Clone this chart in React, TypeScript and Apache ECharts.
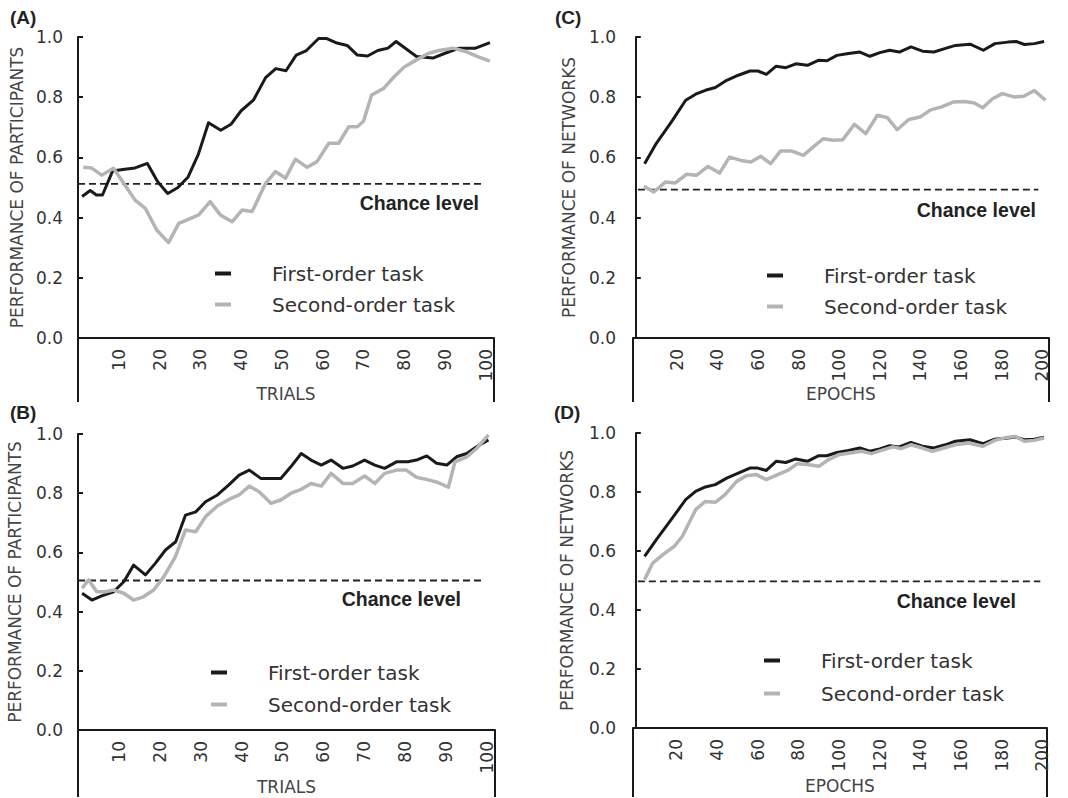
import React, { useEffect, useRef } from "react";
import * as echarts from "echarts";

// ---------- DATA ----------
const seriesNames = ["First-order task", "Second-order task"];
const panelLabels = ["(A)", "(B)", "(C)", "(D)"];
const trialsName = "TRIALS";
const epochsName = "EPOCHS";
const participantsName = "PERFORMANCE OF PARTICIPANTS";
const networksName = "PERFORMANCE OF NETWORKS";
const chanceLabel = "Chance level";

// Panel A (participants)
const aFirstX = [1, 3, 4.5, 6, 8.5, 11, 14, 17, 19.5, 22, 24.5, 27, 29.5, 32, 35, 37.5, 40, 43, 46, 48.5, 51, 53.5, 56, 59, 61, 63.5, 66, 68.5, 71, 73.5, 76, 78, 80.5, 83, 87, 90, 93.5, 97.5, 101];
const aFirstY = [0.47, 0.49, 0.475, 0.475, 0.555, 0.56, 0.565, 0.58, 0.52, 0.48, 0.5, 0.535, 0.61, 0.715, 0.69, 0.71, 0.755, 0.79, 0.865, 0.895, 0.888, 0.94, 0.955, 0.995, 0.995, 0.98, 0.972, 0.94, 0.937, 0.955, 0.963, 0.985, 0.96, 0.935, 0.93, 0.946, 0.963, 0.963, 0.981];
const aSecondX = [1.3, 3.3, 5.8, 8.7, 11.2, 14, 16.5, 19.3, 22.2, 24.7, 27.1, 29.6, 32.4, 34.9, 37.8, 40.2, 42.7, 46, 48.4, 50.9, 53.3, 56.2, 58.6, 61.5, 63.9, 66.4, 68.5, 70, 72, 75, 77.5, 80, 83, 86, 88.5, 92, 95, 98, 101];
const aSecondY = [0.567, 0.565, 0.541, 0.564, 0.514, 0.458, 0.431, 0.359, 0.317, 0.381, 0.394, 0.409, 0.453, 0.409, 0.386, 0.425, 0.42, 0.514, 0.553, 0.531, 0.594, 0.567, 0.586, 0.647, 0.647, 0.702, 0.702, 0.72, 0.807, 0.83, 0.868, 0.9, 0.924, 0.946, 0.955, 0.963, 0.952, 0.935, 0.92];
const aChanceX = [0, 99];
const aChanceY = 0.512;

// Panel B (participants)
const bFirstX = [1, 3.4, 5.8, 8.7, 11.2, 13.6, 16.5, 18.9, 21.4, 23.9, 26.3, 28.8, 31.2, 34.1, 36.9, 39.4, 41.9, 44.7, 49.6, 52.1, 54.6, 57, 59.5, 61.9, 64.8, 67.2, 70.1, 72.6, 75, 77.9, 80.7, 82.8, 85.3, 87.7, 90.2, 92.6, 95.1, 97.5, 100.4];
const bFirstY = [0.462, 0.439, 0.453, 0.467, 0.501, 0.557, 0.524, 0.563, 0.608, 0.636, 0.726, 0.737, 0.771, 0.794, 0.828, 0.861, 0.878, 0.85, 0.85, 0.89, 0.934, 0.912, 0.895, 0.912, 0.884, 0.892, 0.912, 0.895, 0.884, 0.906, 0.906, 0.912, 0.926, 0.901, 0.895, 0.923, 0.934, 0.957, 0.98];
const bSecondX = [1, 2.6, 4.6, 6.7, 8.7, 11.2, 13.6, 16, 18.5, 21, 23.8, 26.3, 28.8, 31.2, 34.1, 36.9, 39.4, 41.9, 44.3, 47.2, 49.6, 52.1, 54.6, 57, 59.5, 61.9, 64.8, 67.2, 70.1, 72.6, 75, 77.9, 80.3, 82.8, 85.7, 88.1, 90.6, 92.2, 95.1, 97.5, 100.4];
const bSecondY = [0.479, 0.507, 0.467, 0.467, 0.473, 0.462, 0.439, 0.45, 0.473, 0.518, 0.585, 0.676, 0.67, 0.721, 0.757, 0.779, 0.794, 0.824, 0.805, 0.766, 0.777, 0.8, 0.813, 0.833, 0.824, 0.867, 0.833, 0.833, 0.858, 0.833, 0.867, 0.878, 0.878, 0.854, 0.845, 0.836, 0.82, 0.906, 0.923, 0.951, 0.997];
const bChanceX = [0, 99];
const bChanceY = 0.505;

// Panel C (networks)
const cFirstX = [4.3, 10, 18, 24.5, 29.4, 34.2, 39.1, 44.7, 50.4, 56.1, 60, 64.2, 69, 73.8, 78.7, 84.4, 90, 94, 98.9, 104.6, 110.2, 115.1, 120, 124.8, 129.6, 135.3, 141, 146.6, 152.3, 157.2, 164.4, 170.9, 176.6, 183, 187, 191.1, 196, 200.8];
const cFirstY = [0.579, 0.646, 0.723, 0.79, 0.81, 0.823, 0.832, 0.856, 0.873, 0.887, 0.887, 0.876, 0.903, 0.898, 0.911, 0.906, 0.923, 0.921, 0.939, 0.945, 0.95, 0.936, 0.948, 0.956, 0.95, 0.967, 0.953, 0.95, 0.962, 0.972, 0.976, 0.956, 0.978, 0.983, 0.985, 0.975, 0.978, 0.985];
const cSecondX = [4, 8.8, 14.5, 19.4, 25, 29.9, 35.5, 41.2, 46, 51.7, 56.6, 61.4, 66.3, 71.1, 76.8, 82.4, 87.3, 92.1, 97, 101.8, 107.5, 113.1, 118.8, 123.7, 128.5, 134.2, 139.8, 144.7, 150.4, 156, 161.7, 166.5, 170.6, 175.4, 180.3, 185.9, 190.8, 196, 201.5];
const cSecondY = [0.504, 0.485, 0.518, 0.515, 0.544, 0.541, 0.57, 0.548, 0.601, 0.59, 0.585, 0.604, 0.579, 0.621, 0.621, 0.607, 0.635, 0.662, 0.657, 0.659, 0.71, 0.679, 0.74, 0.732, 0.692, 0.726, 0.734, 0.757, 0.768, 0.784, 0.786, 0.781, 0.765, 0.795, 0.812, 0.801, 0.803, 0.822, 0.79];
const cChanceX = [1, 198];
const cChanceY = 0.493;

// Panel D (networks)
const dFirstX = [4.3, 10, 18, 24.5, 29.4, 34.2, 39.1, 44.7, 50.4, 56.1, 60, 64.2, 69, 73.8, 78.7, 84.4, 90, 94, 98.9, 104.6, 110.2, 115.1, 120, 124.8, 129.6, 135.3, 141, 146.6, 152.3, 157.2, 164.4, 170.9, 176.6, 183, 187, 191.1, 196, 200.8];
const dFirstY = [0.582, 0.638, 0.712, 0.774, 0.802, 0.817, 0.825, 0.847, 0.864, 0.881, 0.881, 0.873, 0.904, 0.9, 0.912, 0.904, 0.923, 0.923, 0.934, 0.941, 0.949, 0.938, 0.946, 0.957, 0.953, 0.968, 0.955, 0.949, 0.96, 0.972, 0.977, 0.964, 0.979, 0.983, 0.986, 0.977, 0.979, 0.986];
const dSecondX = [4.3, 8.3, 13.2, 18.9, 22.9, 29.4, 34.2, 39.1, 43.9, 49.6, 54.4, 59.3, 64.2, 69.8, 74.7, 79.5, 84.4, 90, 94.9, 99.7, 105.4, 111.1, 116, 120.8, 126.5, 130.5, 135.3, 141, 145.9, 151.5, 157.2, 163.6, 170.9, 176.6, 183, 187, 191.1, 196, 200.8];
const dSecondY = [0.503, 0.559, 0.587, 0.616, 0.65, 0.74, 0.768, 0.765, 0.791, 0.836, 0.855, 0.859, 0.842, 0.859, 0.873, 0.896, 0.893, 0.887, 0.91, 0.926, 0.932, 0.938, 0.93, 0.941, 0.953, 0.947, 0.96, 0.949, 0.938, 0.949, 0.96, 0.966, 0.955, 0.975, 0.986, 0.988, 0.972, 0.975, 0.983];
const dChanceX = [1, 199];
const dChanceY = 0.497;

// ---------- STYLE / LAYOUT ----------
const FONT = '"DejaVu Sans", Verdana, sans-serif';
const BOLD = '"Liberation Sans", Arial, sans-serif';
const INK = "#1a1a1a";
const GRAY = "#b4b4b4";
const TEXT = "#333";

const pairs = (xs: number[], ys: number[]) => xs.map((x, i) => [x, ys[i]]);

const panels = [
  {
    label: panelLabels[0], grid: { left: 78, top: 37, width: 416, height: 301 },
    xMin: 0, xMax: 102, step: 10, useInterval: true,
    xName: trialsName, yName: participantsName,
    first: pairs(aFirstX, aFirstY), second: pairs(aSecondX, aSecondY),
    chance: aChanceX.map((x) => [x, aChanceY]),
    frameBottom: 402, titlePos: { left: 10, top: 8 },
    chancePos: { x: 479, y: 203 }, legendPos: { left: 215, top: 262, gap: 8 },
    yNameGap: 53, xNameGap: 46, yLabelMargin: 15,
  },
  {
    label: panelLabels[1], grid: { left: 78, top: 434, width: 417, height: 296 },
    xMin: 0, xMax: 102, step: 10, useInterval: true,
    xName: trialsName, yName: participantsName,
    first: pairs(bFirstX, bFirstY), second: pairs(bSecondX, bSecondY),
    chance: bChanceX.map((x) => [x, bChanceY]),
    frameBottom: 797, titlePos: { left: 10, top: 403 },
    chancePos: { x: 461, y: 599 }, legendPos: { left: 211, top: 661, gap: 9 },
    yNameGap: 55, xNameGap: 48, yLabelMargin: 15,
  },
  {
    label: panelLabels[2], grid: { left: 633, top: 37, width: 416, height: 301 },
    xMin: -1.4, xMax: 203.2, step: 20, useInterval: false,
    xName: epochsName, yName: networksName,
    first: pairs(cFirstX, cFirstY), second: pairs(cSecondX, cSecondY),
    chance: cChanceX.map((x) => [x, cChanceY]),
    frameBottom: 402, titlePos: { left: 555, top: 8 },
    chancePos: { x: 1036, y: 210 }, legendPos: { left: 767, top: 264, gap: 8 },
    yNameGap: 56, xNameGap: 46, yLabelMargin: 17,
  },
  {
    label: panelLabels[3], grid: { left: 633, top: 433, width: 414, height: 295 },
    xMin: -1.4, xMax: 202.3, step: 20, useInterval: false,
    xName: epochsName, yName: networksName,
    first: pairs(dFirstX, dFirstY), second: pairs(dSecondX, dSecondY),
    chance: dChanceX.map((x) => [x, dChanceY]),
    frameBottom: 797, titlePos: { left: 554, top: 403 },
    chancePos: { x: 1016, y: 601 }, legendPos: { left: 764, top: 649, gap: 10 },
    yNameGap: 58, xNameGap: 49, yLabelMargin: 17,
  },
];

function buildOption() {
  const grid = panels.map((p) => ({ ...p.grid, containLabel: false }));
  const xAxis = panels.map((p, i) => {
    const ax: any = {
      type: "value", gridIndex: i, min: p.xMin, max: p.xMax,
      name: p.xName, nameLocation: "middle", nameGap: p.xNameGap,
      nameTextStyle: { fontFamily: FONT, fontSize: 17, color: "#444" },
      axisLine: { show: true, onZero: false, lineStyle: { color: INK, width: 2 } },
      axisTick: { show: false },
      splitLine: { show: false },
      axisLabel: {
        rotate: 90, margin: 11, fontFamily: FONT, fontSize: 17, color: TEXT,
        formatter: (v: number) => (v > 0 && Math.abs(v % p.step) < 1e-6 ? String(v) : ""),
      },
    };
    if (p.useInterval) ax.interval = p.step;
    else ax.splitNumber = 10;
    return ax;
  });
  const yAxis = panels.map((p, i) => ({
    type: "value", gridIndex: i, min: 0, max: 1, interval: 0.2,
    name: p.yName, nameLocation: "middle", nameGap: p.yNameGap,
    nameTextStyle: { fontFamily: FONT, fontSize: 17, color: "#444" },
    axisLine: { show: true, lineStyle: { color: INK, width: 2 } },
    axisTick: { show: true, inside: true, length: 5, lineStyle: { color: INK, width: 2 } },
    splitLine: { show: false },
    axisLabel: {
      margin: p.yLabelMargin, fontFamily: FONT, fontSize: 17, color: TEXT,
      formatter: (v: number) => v.toFixed(1),
    },
  }));
  const series: any[] = [];
  panels.forEach((p, i) => {
    series.push({
      type: "line", name: seriesNames[0], xAxisIndex: i, yAxisIndex: i,
      data: p.first, symbol: "none", color: INK,
      lineStyle: { color: INK, width: 3, join: "round" }, z: 3,
    });
    series.push({
      type: "line", name: seriesNames[1], xAxisIndex: i, yAxisIndex: i,
      data: p.second, symbol: "none", color: GRAY,
      lineStyle: { color: GRAY, width: 3.5, join: "round" }, z: 4,
    });
    series.push({
      type: "line", name: "chance-" + i, xAxisIndex: i, yAxisIndex: i,
      data: p.chance, symbol: "none", color: "#222",
      lineStyle: { color: "#222", width: 1.8, type: [7, 4] }, z: 2,
    });
  });
  const legend = panels.map((p) => ({
    data: seriesNames, orient: "vertical", left: p.legendPos.left, top: p.legendPos.top,
    itemGap: p.legendPos.gap, itemWidth: 16, itemHeight: 4, icon: "rect",
    padding: 0, selectedMode: false,
    textStyle: { fontFamily: FONT, fontSize: 20, color: TEXT, lineHeight: 23, padding: [0, 0, 0, 36] },
  }));
  const title = panels.map((p) => ({
    text: p.label, left: p.titlePos.left, top: p.titlePos.top, padding: 0,
    textStyle: { fontFamily: BOLD, fontSize: 19, fontWeight: "bold", color: "#222" },
  }));
  const graphic: any[] = [];
  panels.forEach((p) => {
    const bottom = p.grid.top + p.grid.height;
    const right = p.grid.left + p.grid.width;
    graphic.push({
      type: "line", shape: { x1: p.grid.left, y1: bottom, x2: p.grid.left, y2: p.frameBottom },
      style: { stroke: INK, lineWidth: 2 }, silent: true,
    });
    graphic.push({
      type: "line", shape: { x1: right, y1: bottom, x2: right, y2: p.frameBottom },
      style: { stroke: INK, lineWidth: 2 }, silent: true,
    });
    graphic.push({
      type: "text", x: p.chancePos.x, y: p.chancePos.y, silent: true,
      style: {
        text: chanceLabel, font: 'bold 19.5px "Liberation Sans", Arial, sans-serif',
        fill: "#222", align: "right", verticalAlign: "middle",
      },
    });
  });
  return {
    animation: false,
    backgroundColor: "#ffffff",
    title, legend, grid, xAxis, yAxis, series, graphic,
  };
}

export default function App() {
  const ref = useRef<HTMLDivElement>(null);
  useEffect(() => {
    if (!ref.current) return;
    const chart = echarts.init(ref.current, undefined, { renderer: "svg" });
    chart.setOption(buildOption() as any);
    return () => chart.dispose();
  }, []);
  return (
    <div
      ref={ref}
      style={{ position: "absolute", left: 0, top: 0, width: 1068, height: 798, background: "#fff" }}
    />
  );
}
